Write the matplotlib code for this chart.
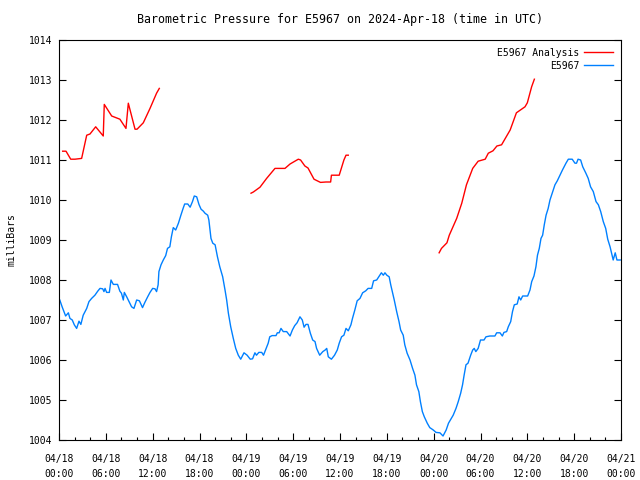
import matplotlib
matplotlib.use('Agg')
import matplotlib.pyplot as plt
import numpy as np

# hours since 2024-04-18 00:00 UTC
obs_hours = [0.1, 0.4, 0.64, 0.85, 1.2, 1.4, 1.7, 1.96, 2.26, 2.56, 2.8, 3.1, 3.55, 3.84, 4.18,
             4.6, 4.96, 5.25, 5.6, 5.76, 5.9, 6.1, 6.45, 6.66, 6.96, 7.5, 7.8, 8.0, 8.24, 8.37,
             8.67, 8.97, 9.3, 9.6, 9.95, 10.3, 10.7, 11.0, 11.36, 11.66, 12.0, 12.3, 12.5, 12.7,
             12.8, 13.07, 13.36, 13.67, 13.9, 14.2, 14.4, 14.64, 14.95, 15.3, 15.6, 15.9, 16.1,
             16.5, 16.8, 17.1, 17.33, 17.64, 17.93, 18.2, 18.5, 18.7, 19.05, 19.2, 19.47, 19.7,
             20.0, 20.3, 20.6, 20.97, 21.27, 21.48, 21.7, 22.0, 22.33, 22.64, 22.97, 23.28, 23.7,
             24.1, 24.5, 24.8, 25.1, 25.3, 25.6, 25.97, 26.2, 26.5, 26.8, 27.0, 27.3, 27.8, 27.97,
             28.2, 28.44, 28.73, 29.17, 29.6, 29.9, 30.2, 30.5, 30.87, 31.17, 31.4, 31.64, 31.9,
             32.2, 32.5, 32.8, 33.0, 33.4, 33.8, 34.1, 34.3, 34.5, 34.9, 35.3, 35.65, 35.9, 36.2,
             36.5, 36.77, 37.06, 37.4, 37.6, 37.9, 38.2, 38.56, 38.9, 39.3, 39.6, 40.06, 40.3,
             40.7, 41.03, 41.3, 41.55, 41.76, 42.0, 42.3, 42.5, 42.7, 42.95, 43.26, 43.56, 43.77,
             44.1, 44.3, 44.6, 44.97, 45.3, 45.6, 45.8, 46.1, 46.3, 46.55, 46.8, 47.18, 47.5,
             47.95, 48.3, 48.8, 49.0, 49.2, 49.6, 49.9, 50.2, 50.5, 50.86, 51.15, 51.46, 51.7,
             51.9, 52.14, 52.4, 52.74, 53.0, 53.2, 53.4, 53.7, 54.0, 54.45, 54.7, 55.2, 55.85,
             56.07, 56.5, 56.8, 57.0, 57.35, 57.56, 57.87, 58.1, 58.33, 58.7, 58.93, 59.15, 59.4,
             60.04, 60.34, 60.56, 60.85, 61.1, 61.3, 61.53, 61.75, 61.96, 62.17, 62.4, 62.67,
             62.9, 63.25, 63.54, 63.84, 64.18, 64.5, 64.95, 65.25, 65.75, 66.1, 66.3, 66.5,
             66.83, 67.1, 67.5, 67.8, 68.1, 68.45, 68.8, 69.1, 69.4, 69.73, 70.04, 70.3, 70.6,
             70.8, 71.0, 71.26, 71.48, 71.9]
obs_mb = [1007.5, 1007.33, 1007.21, 1007.1, 1007.18, 1007.04, 1007.0, 1006.88, 1006.79, 1006.97,
          1006.89, 1007.12, 1007.29, 1007.46, 1007.54, 1007.62, 1007.72, 1007.79, 1007.78,
          1007.71, 1007.79, 1007.69, 1007.69, 1008.0, 1007.89, 1007.89, 1007.72, 1007.67,
          1007.5, 1007.69, 1007.58, 1007.46, 1007.33, 1007.29, 1007.5, 1007.48, 1007.31,
          1007.44, 1007.58, 1007.69, 1007.79, 1007.78, 1007.71, 1007.88, 1008.21, 1008.38,
          1008.5, 1008.61, 1008.79, 1008.83, 1009.08, 1009.31, 1009.25, 1009.42, 1009.61,
          1009.79, 1009.9, 1009.9, 1009.82, 1009.96, 1010.1, 1010.08, 1009.89, 1009.77,
          1009.72, 1009.67, 1009.62, 1009.5, 1009.04, 1008.92, 1008.88, 1008.58, 1008.33,
          1008.08, 1007.75, 1007.5, 1007.17, 1006.83, 1006.54, 1006.29, 1006.12, 1006.02,
          1006.18, 1006.12, 1006.02, 1006.03, 1006.18, 1006.12, 1006.19, 1006.19, 1006.12,
          1006.27, 1006.42, 1006.58, 1006.61, 1006.61, 1006.68, 1006.68, 1006.79, 1006.71,
          1006.71, 1006.6, 1006.75, 1006.86, 1006.93, 1007.08, 1007.0, 1006.82, 1006.89,
          1006.89, 1006.67, 1006.5, 1006.46, 1006.29, 1006.12, 1006.21, 1006.25, 1006.29,
          1006.08, 1006.02, 1006.12, 1006.25, 1006.42, 1006.58, 1006.62, 1006.79, 1006.73,
          1006.88, 1007.04, 1007.25, 1007.48, 1007.54, 1007.68, 1007.73, 1007.79, 1007.79,
          1007.98, 1008.0, 1008.1, 1008.18, 1008.12, 1008.18, 1008.12, 1008.08, 1007.88,
          1007.71, 1007.5, 1007.21, 1006.96, 1006.75, 1006.62, 1006.38, 1006.17, 1006.0,
          1005.79, 1005.62, 1005.38, 1005.21, 1004.96, 1004.71, 1004.58, 1004.42, 1004.31,
          1004.25, 1004.19, 1004.18, 1004.14, 1004.1, 1004.25, 1004.42, 1004.52, 1004.62,
          1004.79, 1004.96, 1005.17, 1005.38, 1005.62, 1005.88, 1005.92, 1006.12, 1006.25,
          1006.29, 1006.21, 1006.29, 1006.5, 1006.5, 1006.58, 1006.6, 1006.6, 1006.68,
          1006.68, 1006.6, 1006.69, 1006.71, 1006.83, 1006.96, 1007.21, 1007.38, 1007.4,
          1007.58, 1007.5, 1007.6, 1007.6, 1007.75, 1007.96, 1008.1, 1008.33, 1008.62,
          1008.79, 1009.04, 1009.12, 1009.38, 1009.62, 1009.79, 1010.0, 1010.21, 1010.38,
          1010.48, 1010.62, 1010.75, 1010.92, 1011.02, 1011.02, 1010.92, 1010.92, 1011.02,
          1011.0, 1010.83, 1010.67, 1010.54, 1010.33, 1010.21, 1009.96, 1009.88, 1009.71,
          1009.46, 1009.29, 1009.02, 1008.83, 1008.67, 1008.5, 1008.68, 1008.5, 1008.5]

# analysis runs (three separate segments)
ana1_hours = [0.47, 0.9, 1.5, 2.05, 2.9, 3.55, 3.97, 4.7, 5.67, 5.8, 6.75, 7.8, 8.58, 8.88,
              9.74, 10.0, 10.8, 11.66, 12.5, 12.85]
ana1_mb = [1011.22, 1011.22, 1011.02, 1011.02, 1011.04, 1011.62, 1011.65, 1011.83, 1011.6,
           1012.39, 1012.1, 1012.02, 1011.79, 1012.42, 1011.77, 1011.77, 1011.93, 1012.29,
           1012.67, 1012.79]
ana2_hours = [24.6, 24.9, 25.75, 26.6, 27.67, 28.95, 29.6, 30.66, 30.95, 31.5, 31.9, 32.67,
              33.5, 34.2, 34.8, 34.9, 35.9, 36.5, 36.77, 37.06]
ana2_mb = [1010.17, 1010.2, 1010.32, 1010.54, 1010.79, 1010.79, 1010.9, 1011.02, 1011.0,
           1010.85, 1010.8, 1010.52, 1010.44, 1010.45, 1010.45, 1010.62, 1010.62, 1011.0,
           1011.12, 1011.12]
ana3_hours = [48.7, 49.0, 49.7, 50.0, 50.95, 51.6, 52.2, 53.0, 53.7, 54.6, 55.0, 55.6, 56.1,
              56.7, 57.8, 58.6, 59.7, 60.0, 60.55, 60.9]
ana3_mb = [1008.68, 1008.79, 1008.93, 1009.12, 1009.54, 1009.92, 1010.38, 1010.79, 1010.97,
           1011.02, 1011.17, 1011.23, 1011.35, 1011.38, 1011.75, 1012.18, 1012.33, 1012.43,
           1012.83, 1013.02]

tick_hours = [0, 6, 12, 18, 24, 30, 36, 42, 48, 54, 60, 66, 72]
tick_labels = ['04/18\n00:00', '04/18\n06:00', '04/18\n12:00', '04/18\n18:00',
               '04/19\n00:00', '04/19\n06:00', '04/19\n12:00', '04/19\n18:00',
               '04/20\n00:00', '04/20\n06:00', '04/20\n12:00', '04/20\n18:00',
               '04/21\n00:00']

plt.rcParams['font.family'] = 'DejaVu Sans Mono'
plt.rcParams['font.size'] = 7

red = '#ff0000'
blue = '#0080ff'

fig = plt.figure(figsize=(6.4, 4.8), dpi=100)
ax = fig.add_axes([59 / 640, 40 / 480, 562 / 640, 400 / 480])

ax.plot(ana1_hours, ana1_mb, color=red, lw=1.0, label='E5967 Analysis')
ax.plot(ana2_hours, ana2_mb, color=red, lw=1.0)
ax.plot(ana3_hours, ana3_mb, color=red, lw=1.0)
ax.plot(obs_hours, obs_mb, color=blue, lw=1.0, label='E5967')

ax.set_xlim(0, 72)
ax.set_ylim(1004, 1014)
ax.set_xticks(tick_hours)
ax.set_xticklabels(tick_labels, linespacing=1.7)
ax.set_xticks(np.arange(0, 73, 2), minor=True)
ax.set_yticks(np.arange(1004, 1015, 1))

ax.tick_params(axis='both', direction='in', length=5, width=0.8, colors='black')
ax.tick_params(axis='x', which='major', pad=10)
ax.tick_params(axis='x', which='minor', direction='in', length=2.5, width=0.8)
ax.tick_params(axis='y', right=True, pad=5)
for s in ax.spines.values():
    s.set_linewidth(0.8)

ax.set_ylabel('milliBars', labelpad=9)
ax.set_title('Barometric Pressure for E5967 on 2024-Apr-18 (time in UTC)', pad=12)

ax.legend(loc='upper right', frameon=False, markerfirst=False, handlelength=3.0,
          handletextpad=0.5, labelspacing=0.3, borderaxespad=0.4)

fig.savefig('out.png', dpi=100)
